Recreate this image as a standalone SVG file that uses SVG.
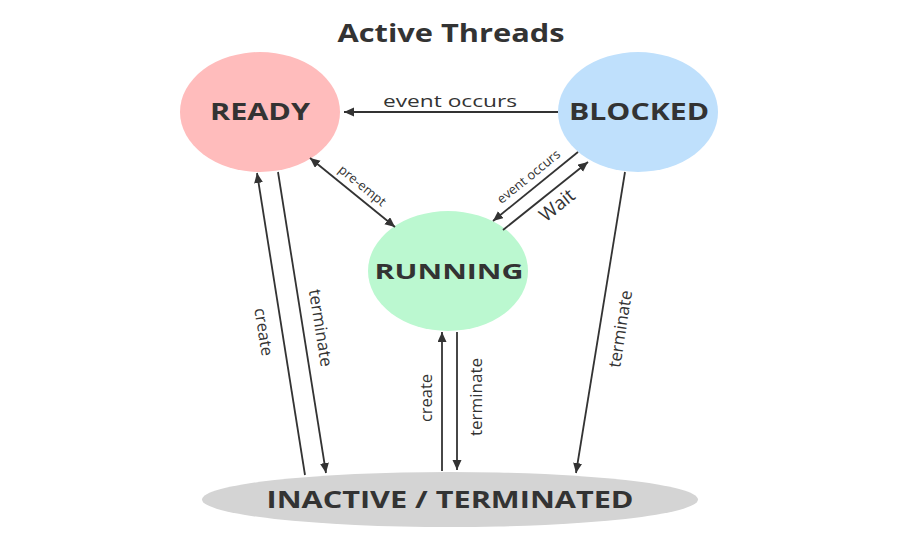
<svg xmlns="http://www.w3.org/2000/svg" width="900" height="550" viewBox="0 0 900 550">
<style>
.t{font-family:"Open Sans","Noto Sans","DejaVu Sans",sans-serif;fill:#333;}
.b{font-weight:bold;}
.c{stroke:#333;stroke-width:1.8;fill:none;}
.one{marker-end:url(#ah);}
.two{marker-start:url(#ah);marker-end:url(#ah);}
</style>
<defs>
<marker id="ah" markerUnits="userSpaceOnUse" markerWidth="11" markerHeight="10" refX="10" refY="4.5" orient="auto-start-reverse">
<path d="M0,0 L10,4.5 L0,9 z" fill="#333"/>
</marker>
</defs>
<rect width="900" height="550" fill="#fff"/>
<text class="t b" x="451" y="42" font-size="25" text-anchor="middle" textLength="227" lengthAdjust="spacingAndGlyphs">Active Threads</text>

<g id="ready">
<ellipse cx="260" cy="112" rx="80" ry="60" fill="#ffbcbc"/>
<text class="t b" x="260" y="120" font-size="23" text-anchor="middle" textLength="100" lengthAdjust="spacingAndGlyphs">READY</text>
</g>
<g id="blocked">
<ellipse cx="638" cy="112" rx="80" ry="60" fill="#bfe0fc"/>
<text class="t b" x="639" y="120" font-size="23" text-anchor="middle" textLength="140" lengthAdjust="spacingAndGlyphs">BLOCKED</text>
</g>
<g id="running">
<ellipse cx="448" cy="271" rx="80" ry="60" fill="#bbf8d0"/>
<text class="t b" x="449" y="279" font-size="22" text-anchor="middle" textLength="149" lengthAdjust="spacingAndGlyphs">RUNNING</text>
</g>
<g id="inactive">
<ellipse cx="450" cy="499.5" rx="248" ry="27.5" fill="#d4d4d4"/>
<text class="t b" x="450" y="508" font-size="23" text-anchor="middle" textLength="367" lengthAdjust="spacingAndGlyphs">INACTIVE / TERMINATED</text>
</g>

<g id="connectors">
<line class="c one" x1="558" y1="112" x2="344" y2="112"/>
<text class="t" x="450" y="107" font-size="17" text-anchor="middle" textLength="134" lengthAdjust="spacingAndGlyphs">event occurs</text>

<line class="c two" x1="310" y1="158" x2="395" y2="227"/>
<text class="t" font-size="13" text-anchor="middle" transform="translate(362,186) rotate(39)" dy="0.3em">pre-empt</text>

<line class="c one" x1="578" y1="152" x2="493" y2="221"/>
<text class="t" font-size="13" text-anchor="middle" transform="translate(529,177) rotate(-39)" dy="0.3em">event occurs</text>

<line class="c one" x1="503" y1="230" x2="588" y2="162"/>
<text class="t" font-size="19" text-anchor="middle" transform="translate(557,205) rotate(-39)" dy="0.35em">Wait</text>

<line class="c one" x1="305" y1="475" x2="257" y2="173"/>
<text class="t" font-size="16.5" text-anchor="middle" transform="translate(263,332) rotate(81)" dy="0.3em">create</text>

<line class="c one" x1="278" y1="172" x2="326" y2="473"/>
<text class="t" font-size="17" text-anchor="middle" transform="translate(320,328) rotate(81)" dy="0.3em">terminate</text>

<line class="c one" x1="442" y1="471" x2="442" y2="332"/>
<text class="t" font-size="16.5" text-anchor="middle" transform="translate(427,398) rotate(-90)" dy="0.3em">create</text>

<line class="c one" x1="457" y1="332" x2="457" y2="470"/>
<text class="t" font-size="17" text-anchor="middle" transform="translate(477,397) rotate(-90)" dy="0.3em">terminate</text>

<line class="c one" x1="625" y1="172" x2="576" y2="473"/>
<text class="t" font-size="17" text-anchor="middle" transform="translate(621,329) rotate(-81)" dy="0.3em">terminate</text>
</g>
</svg>
